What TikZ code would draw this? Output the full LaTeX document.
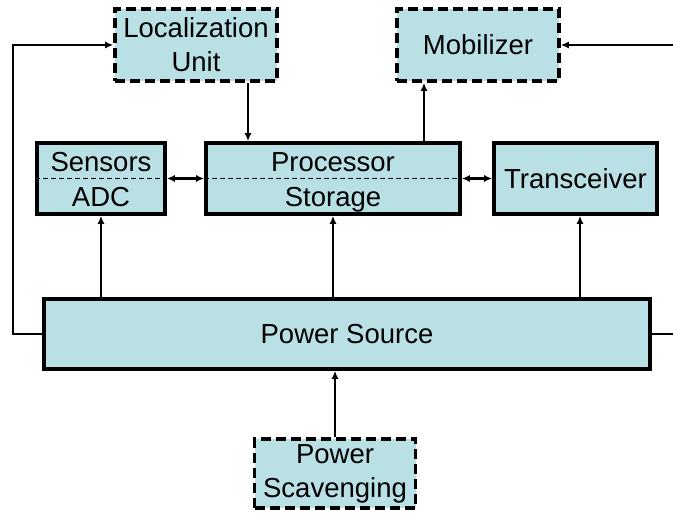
\documentclass[tikz,border=0pt]{standalone}
\usepackage{fontspec}
\setmainfont{Liberation Sans}
\usetikzlibrary{arrows.meta}

\definecolor{boxfill}{RGB}{185,224,228}

\tikzset{
	block/.style={draw, line width=3.6pt, fill=boxfill, inner sep=0pt, align=center, font=\fontsize{27.5}{34}\selectfont},
	optblock/.style={block, dash pattern=on 10pt off 5pt},
	lbl/.style={inner sep=0pt, anchor=base, font=\fontsize{27.5}{34}\selectfont},
	wire/.style={line width=2.2pt},
	conn/.style={wire, -{Latex[length=8pt,width=7pt]}},
	link/.style={wire, {Latex[length=8pt,width=7pt]}-{Latex[length=8pt,width=7pt]}},
	splitline/.style={line width=1.5pt, dash pattern=on 5pt off 3pt}
}

\begin{document}
\begin{tikzpicture}[x=1pt,y=-1pt]
	\useasboundingbox (0,0) rectangle (673,514);
	
	% optional units (dashed)
	\node[optblock, minimum width=162pt, minimum height=72pt] (loc) at (196,45) {Localization\\Unit};
	\node[optblock, minimum width=162pt, minimum height=72pt] (mob) at (478,45) {Mobilizer};
	\node[optblock, minimum width=161pt, minimum height=69pt] (scav) at (335,473.5) {Power\\Scavenging};
	
	% core units
	\node[block, minimum width=128pt, minimum height=71pt] (sens) at (101,178.5) {};
	\node[block, minimum width=254pt, minimum height=71pt] (proc) at (333,178.5) {};
	\node[block, minimum width=163pt, minimum height=71pt] (trans) at (575.5,178.5) {Transceiver};
	\node[block, minimum width=606pt, minimum height=70pt] (power) at (347,334) {Power Source};
	
	% two-part boxes
	\draw[splitline] (sens.west) -- (sens.east);
	\draw[splitline] (proc.west) -- (proc.east);
	\node[lbl] (sensT) at ([yshift=-30pt]sens.north) {Sensors};
	\node[lbl] (sensB) at ([yshift=9pt]sens.south) {ADC};
	\node[lbl] (procT) at ([yshift=-30pt]proc.north) {Processor};
	\node[lbl] (procB) at ([yshift=9pt]proc.south) {Storage};
	
	% data links
	\draw[link] (sens.east) -- (proc.west);
	\draw[link] (proc.east) -- (trans.west);
	\draw[conn] ([xshift=52pt]loc.south) -- ([xshift=-85pt]proc.north);
	\draw[conn] ([xshift=91pt]proc.north) -- ([xshift=-54pt]mob.south);
	
	% power distribution
	\draw[conn] (power.north -| sens.south) -- (sens.south);
	\draw[conn] (power.north -| proc.south) -- (proc.south);
	\draw[conn] ([xshift=4.5pt]trans.south |- power.north) -- ([xshift=4.5pt]trans.south);
	\draw[conn] (scav.north) -- (scav.north |- power.south);
	
	% feedback lines round the sides
	\coordinate (lft) at (13,45);
	\coordinate (rgtA) at (673,334);
	\coordinate (rgtB) at (673,45);
	\draw[conn] (power.west) -| (lft) -- (loc.west);
	\draw[wire] (power.east) -- (rgtA);
	\draw[conn] (rgtB) -- (mob.east);
	
\end{tikzpicture}
\end{document}
